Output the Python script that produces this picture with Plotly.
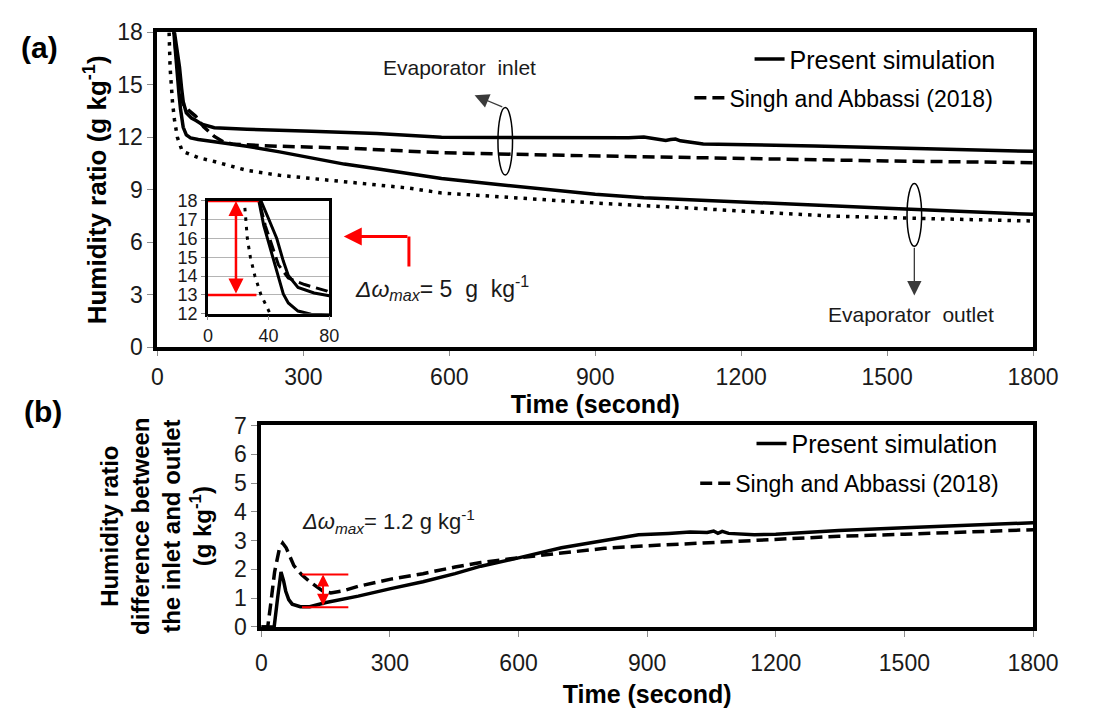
import plotly.graph_objects as go

# ---------------- data ----------------
# Panel (a): evaporator inlet, present simulation (solid)
time_in_sim = [30, 35, 40, 45.4, 49.7, 53, 59.4, 70, 80, 91, 117, 184, 317, 451, 584,
               800, 969, 1000, 1030, 1045, 1055, 1065, 1075, 1122, 1351, 1550, 1733, 1800]
in_sim = [19.6, 18.0, 17.05, 16.0, 14.8, 14.03, 13.4, 13.1, 12.95, 12.75, 12.55, 12.46, 12.35,
          12.22, 12.0, 11.98, 11.97, 12.02, 11.9, 11.82, 11.87, 11.9, 11.8, 11.62, 11.5,
          11.38, 11.25, 11.2]

# Panel (a): evaporator inlet, Singh and Abbassi (2018) (dashed)
time_in_ref = [28, 33.8, 37.8, 43, 46.5, 53, 63.7, 78.7, 95, 117, 135, 157, 200, 251, 384,
               584, 917, 1251, 1500, 1800]
in_ref = [19.6, 18.0, 16.7, 15.5, 14.6, 13.9, 13.55, 13.2, 12.6, 12.05, 11.75, 11.6, 11.53,
          11.49, 11.39, 11.12, 10.93, 10.75, 10.65, 10.55]

# Panel (a): evaporator outlet, present simulation (solid)
time_out_sim = [29, 33.6, 36.8, 41, 44.3, 47.5, 49.7, 53, 59.4, 68, 84, 117, 184, 251, 317,
                384, 451, 517, 584, 700, 800, 900, 1000, 1100, 1200, 1384, 1500, 1650, 1800]
out_sim = [19.6, 18.0, 16.7, 15.5, 14.47, 13.6, 13.05, 12.57, 12.14, 11.97, 11.88, 11.76,
           11.49, 11.17, 10.84, 10.47, 10.2, 9.92, 9.65, 9.3, 9.0, 8.75, 8.55, 8.42, 8.3,
           8.09, 7.95, 7.78, 7.6]

# Panel (a): evaporator outlet, Singh and Abbassi (2018) (dotted)
time_out_ref = [19, 24, 26, 28, 31, 35, 41, 51, 84, 117, 184, 251, 317, 384, 451, 517, 584,
                700, 900, 1100, 1250, 1384, 1550, 1800]
out_ref = [19.6, 18.0, 16.0, 15.0, 14.0, 13.0, 12.0, 11.21, 10.84, 10.62, 10.11, 9.83, 9.65,
           9.47, 9.28, 9.10, 8.82, 8.6, 8.25, 7.95, 7.7, 7.5, 7.38, 7.22]

# Panel (b): inlet-outlet difference
time_diff_sim = [0, 30, 38, 46, 52, 57, 64, 72, 91, 113, 151, 226, 302, 377, 452, 512, 600,
                 700, 800, 880, 950, 1000, 1040, 1055, 1065, 1075, 1090, 1150, 1200, 1347,
                 1500, 1650, 1800]
diff_sim = [0, 0, 1.0, 1.91, 1.6, 1.24, 0.95, 0.79, 0.70, 0.70, 0.85, 1.07, 1.33, 1.57, 1.85,
            2.11, 2.4, 2.75, 3.0, 3.2, 3.25, 3.3, 3.28, 3.33, 3.25, 3.32, 3.25, 3.2, 3.22,
            3.35, 3.45, 3.53, 3.62]

time_diff_ref = [0, 15, 22, 31, 42, 50, 58, 76, 95, 113, 144, 162, 190, 226, 302, 377, 452,
                 512, 600, 700, 800, 900, 1000, 1100, 1200, 1347, 1500, 1650, 1800]
diff_ref = [0, 0, 0.8, 1.91, 2.7, 2.91, 2.75, 2.13, 1.8, 1.57, 1.24, 1.18, 1.25, 1.41, 1.66,
            1.85, 2.08, 2.24, 2.4, 2.58, 2.73, 2.82, 2.9, 2.97, 3.03, 3.15, 3.22, 3.3, 3.38]

time_ticks = [0, 300, 600, 900, 1200, 1500, 1800]
inset_time_ticks = [0, 40, 80]

# ---------------- figure ----------------
W, H = 1093, 717
FONT = "Liberation Sans, Arial, sans-serif"
TXT = "#1a1a1a"
DASH = "12px,6px"
DOT = "3.5px,6px"
LW = 3.5
NB = "\u00a0"

fig = go.Figure()

# panel (a)
fig.add_trace(go.Scatter(x=time_in_sim, y=in_sim, mode="lines", name="Present simulation",
                         line=dict(color="black", width=LW), legend="legend", showlegend=True))
fig.add_trace(go.Scatter(x=time_in_ref, y=in_ref, mode="lines", name="Singh and Abbassi (2018)",
                         line=dict(color="black", width=LW, dash=DASH), legend="legend2",
                         showlegend=True))
fig.add_trace(go.Scatter(x=time_out_sim, y=out_sim, mode="lines", showlegend=False,
                         line=dict(color="black", width=LW)))
fig.add_trace(go.Scatter(x=time_out_ref, y=out_ref, mode="lines", showlegend=False,
                         line=dict(color="black", width=LW, dash=DOT)))

# inset (same data, zoomed)
for xs, ys, d in [(time_in_sim, in_sim, None), (time_in_ref, in_ref, DASH),
                  (time_out_sim, out_sim, None), (time_out_ref, out_ref, DOT)]:
    fig.add_trace(go.Scatter(x=xs, y=ys, mode="lines", showlegend=False, xaxis="x2", yaxis="y2",
                             line=dict(color="black", width=3, dash=d)))

# panel (b)
fig.add_trace(go.Scatter(x=time_diff_sim, y=diff_sim, mode="lines", name="Present simulation",
                         xaxis="x3", yaxis="y3", line=dict(color="black", width=LW),
                         legend="legend3", showlegend=True))
fig.add_trace(go.Scatter(x=time_diff_ref, y=diff_ref, mode="lines",
                         name="Singh and Abbassi (2018)", xaxis="x3", yaxis="y3",
                         line=dict(color="black", width=LW, dash=DASH), legend="legend4",
                         showlegend=True))

axis_common = dict(showline=True, linecolor="black", mirror=True, ticks="outside",
                   tickcolor="#8c8c8c", tickwidth=1, showgrid=False, zeroline=False,
                   tickfont=dict(family=FONT, size=23, color=TXT))


def dx(p):
    return p / W


def dy(p):
    return 1 - p / H


def leg(xp, yp, size):
    return dict(x=dx(xp), y=dy(yp), xanchor="left", yanchor="middle",
                bgcolor="rgba(0,0,0,0)", font=dict(size=size, family=FONT, color="black"))


fig.update_layout(
    width=W, height=H, margin=dict(l=0, r=0, t=0, b=0),
    paper_bgcolor="white", plot_bgcolor="white",
    font=dict(family=FONT, color=TXT),
    xaxis=dict(domain=[dx(156), dx(1058)], anchor="y", range=[0, 1800], tickvals=time_ticks,
               linewidth=4, ticklen=5, ticklabelstandoff=1,
               title=dict(text="<b>Time (second)</b>", font=dict(size=25, color="black"),
                          standoff=0),
               **axis_common),
    yaxis=dict(domain=[dy(347), dy(20)], anchor="x", range=[0, 18], dtick=3, linewidth=4,
               ticklen=6,
               title=dict(text="<b>Humidity ratio (g kg<sup>-1</sup>)</b>",
                          font=dict(size=26, color="black"), standoff=4),
               **axis_common),
    xaxis2=dict(domain=[dx(208), dx(333)], anchor="y2", range=[0, 80], tickvals=inset_time_ticks,
                linewidth=2.5, ticklen=4,
                **{**axis_common, "tickfont": dict(family=FONT, size=18, color=TXT)}),
    yaxis2=dict(domain=[dy(312), dy(195)], anchor="x2", range=[12, 18], dtick=1,
                linewidth=2.5, ticklen=4,
                **{**axis_common, "showgrid": True,
                   "tickfont": dict(family=FONT, size=18, color=TXT)},
                gridcolor="#b4b4b4", gridwidth=1),
    xaxis3=dict(domain=[dx(263), dx(1058)], anchor="y3", range=[0, 1800], tickvals=time_ticks,
                linewidth=4, ticklen=6, ticklabelstandoff=6,
                title=dict(text="<b>Time (second)</b>", font=dict(size=25, color="black"),
                           standoff=12),
                **axis_common),
    yaxis3=dict(domain=[dy(637), dy(428)], anchor="x3", range=[0, 7], dtick=1, linewidth=4,
                ticklen=6,
                title=dict(text="<b>Humidity ratio</b><br><b>difference between</b><br>"
                                "<b>the inlet and outlet</b><br><b>(g kg<sup>-1</sup>)</b>",
                           font=dict(size=24, color="black"), standoff=16),
                **axis_common),
    legend=leg(766, 48, 25),
    legend2=leg(704, 88, 23),
    legend3=leg(768, 447, 25),
    legend4=leg(710, 488, 23),
)

RED = "#ff0000"
shapes = [
    # ellipses marking the curve pairs
    dict(type="circle", xref="x", yref="y", x0=700, x1=730, y0=9.85, y1=13.7,
         line=dict(color="black", width=1.5)),
    dict(type="circle", xref="x", yref="y", x0=1541, x1=1571, y0=5.78, y1=9.36,
         line=dict(color="black", width=1.5)),
    # inset red marks
    dict(type="line", xref="x2", yref="y2", x0=0, x1=33.5, y0=18, y1=18,
         line=dict(color=RED, width=2.5)),
    dict(type="line", xref="x2", yref="y2", x0=0, x1=32, y0=13, y1=13,
         line=dict(color=RED, width=2.5)),
    # bracket pointing to the inset
    dict(type="line", xref="x", yref="y", x0=517, x1=517, y0=4.62, y1=6.33,
         line=dict(color=RED, width=3)),
    # panel (b) red marks
    dict(type="line", xref="x3", yref="y3", x0=95, x1=203, y0=1.82, y1=1.82,
         line=dict(color=RED, width=2)),
    dict(type="line", xref="x3", yref="y3", x0=95, x1=203, y0=0.68, y1=0.68,
         line=dict(color=RED, width=2)),
]

C = dict(xanchor="center", yanchor="middle")
annotations = [
    dict(text="<b>(a)</b>", xref="paper", yref="paper", x=dx(35), y=dy(36), showarrow=False,
         font=dict(size=30, color="black"), **C),
    dict(text="<b>(b)</b>", xref="paper", yref="paper", x=dx(38), y=dy(413), showarrow=False,
         font=dict(size=30, color="black"), **C),
    dict(text="Evaporator" + NB + " inlet", xref="x", yref="y", x=621, y=15.96,
         showarrow=False, font=dict(size=21, color=TXT), **C),
    dict(text="Evaporator" + NB + " outlet", xref="x", yref="y", x=1549, y=1.87,
         showarrow=False, font=dict(size=21, color=TXT), **C),
    dict(text="", xref="x", yref="y", x=652, y=14.4, axref="x", ayref="y", ax=712, ay=13.7,
         showarrow=True, arrowhead=2, arrowsize=2.2, arrowwidth=1.3, arrowcolor="#3a3a3a"),
    dict(text="", xref="x", yref="y", x=1556, y=2.97, axref="x", ayref="y", ax=1556, ay=5.78,
         showarrow=True, arrowhead=2, arrowsize=2.2, arrowwidth=1.3, arrowcolor="#3a3a3a"),
    dict(text="<i>Δω</i><sub><i>max</i></sub>= 5" + NB + " g" + NB + " kg<sup>-1</sup>",
         xref="x", yref="y", x=403, y=3.41, xanchor="left", yanchor="middle", showarrow=False,
         font=dict(size=23, color=TXT)),
    dict(text="<i>Δω</i><sub><i>max</i></sub>= 1.2 g kg<sup>-1</sup>", xref="x3", yref="y3",
         x=91, y=3.68, xanchor="left", yanchor="middle", showarrow=False,
         font=dict(size=22, color=TXT)),
    # inset double arrow
    dict(text="", xref="x2", yref="y2", x=18.5, y=18, axref="x2", ayref="y2", ax=18.5, ay=13,
         showarrow=True, arrowside="end+start", arrowhead=2, arrowsize=1.2, arrowwidth=2.5,
         arrowcolor=RED),
    # bracket arrow
    dict(text="", xref="x", yref="y", x=383, y=6.33, axref="x", ayref="y", ax=517, ay=6.33,
         showarrow=True, arrowhead=2, arrowsize=1.2, arrowwidth=3, arrowcolor=RED),
    # panel (b) double arrow
    dict(text="", xref="x3", yref="y3", x=144, y=1.82, axref="x3", ayref="y3", ax=144, ay=0.68,
         showarrow=True, arrowside="end+start", arrowhead=2, arrowsize=1.2, arrowwidth=2,
         arrowcolor=RED),
]

fig.update_layout(shapes=shapes, annotations=annotations)
fig.write_html("out.html")
